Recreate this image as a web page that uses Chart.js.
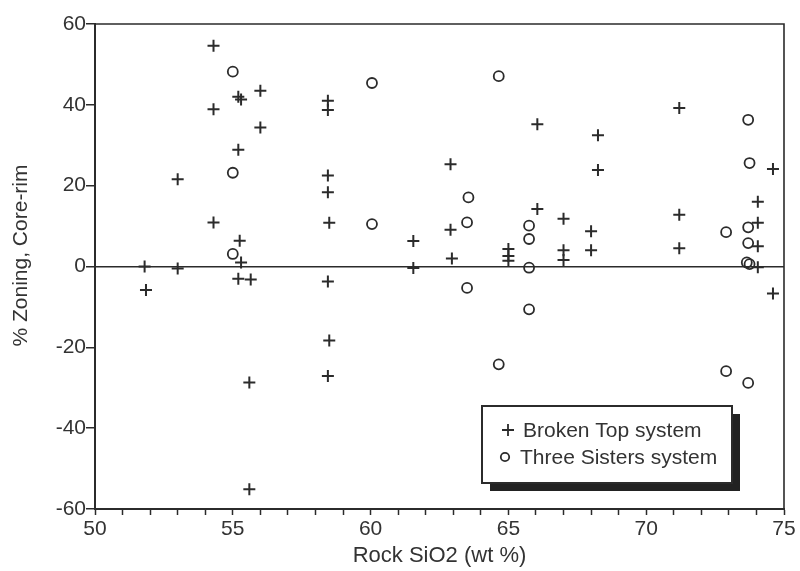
<!DOCTYPE html>
<html>
<head>
<meta charset="utf-8">
<script src="https://cdn.jsdelivr.net/npm/chart.js@4/dist/chart.umd.min.js"></script>
<style>
  html, body { margin: 0; padding: 0; background: #fff; }
  #wrap { width: 800px; height: 571px; }
</style>
</head>
<body>
<div id="wrap"><canvas id="c" width="800" height="571"></canvas></div>
<script>
// Plagioclase zoning (core to rim, %) against whole-rock silica
const seriesNames = ['Broken Top system', 'Three Sisters system'];

const brokenTopSiO2 = [
  54.3, 56.0, 55.2, 55.3, 54.3, 56.0, 55.2, 53.0, 54.3, 55.25, 55.3, 51.8, 53.0,
  51.85, 55.2, 55.65, 55.6, 55.6, 58.45, 58.45, 62.9, 58.45, 58.45, 58.5, 62.9,
  61.55, 62.95, 61.55, 65.0, 65.0, 65.0, 58.45, 58.5, 58.45, 66.05, 68.25, 71.2,
  74.6, 68.25, 66.05, 67.0, 71.2, 74.05, 68.0, 68.0, 67.0, 67.0, 71.2, 74.05,
  74.05, 74.05, 74.6
];
const brokenTopZoning = [
  54.6, 43.5, 42.0, 41.3, 38.9, 34.4, 28.9, 21.6, 10.9, 6.4, 1.0, 0.0, -0.5,
  -5.8, -3.0, -3.2, -28.7, -55.1, 41.0, 38.7, 25.3, 22.5, 18.4, 10.8, 9.1,
  6.3, 2.0, -0.4, 4.3, 2.6, 1.4, -3.7, -18.3, -27.1, 35.2, 32.5, 39.2,
  24.1, 23.9, 14.2, 11.8, 12.8, 16.0, 8.7, 4.0, 4.0, 1.6, 4.5, 10.8,
  5.0, -0.2, -6.7
];

const threeSistersSiO2 = [
  55.0, 55.0, 55.0, 60.05, 64.65, 63.55, 60.05, 63.5, 63.5, 64.65, 73.7, 73.75,
  65.75, 65.75, 65.75, 65.75, 72.9, 73.7, 73.7, 73.65, 73.75, 72.9, 73.7
];
const threeSistersZoning = [
  48.2, 23.2, 3.1, 45.4, 47.1, 17.1, 10.5, 10.9, -5.3, -24.2, 36.3, 25.6,
  10.1, 6.8, -0.3, -10.6, 8.5, 9.7, 5.8, 1.0, 0.6, -25.9, -28.8
];

const xRange = [50, 75];
const yRange = [-60, 60];
const xTitle = 'Rock SiO2 (wt %)';
const yTitle = '% Zoning, Core-rim';

const ink = '#2b2b2b';
const textInk = '#333';
const fontFamily = '"Liberation Sans", Arial, Helvetica, sans-serif';

function toPoints(xs, ys) {
  return xs.map((x, i) => ({ x: x, y: ys[i] }));
}

// closes the plot box on the top and right sides
const frame = {
  id: 'frame',
  afterDatasetsDraw(chart) {
    const { ctx, chartArea: a } = chart;
    ctx.save();
    ctx.strokeStyle = ink;
    ctx.lineWidth = 1.6;
    ctx.beginPath();
    ctx.moveTo(a.left, a.top);
    ctx.lineTo(a.right, a.top);
    ctx.lineTo(a.right, a.bottom);
    ctx.stroke();
    ctx.restore();
  }
};

// vertical axis title, set a little above the middle of the plot
const yAxisTitle = {
  id: 'yAxisTitle',
  afterDraw(chart) {
    const { ctx, chartArea: a } = chart;
    ctx.save();
    ctx.translate(21, (a.top + a.bottom) / 2 - 11);
    ctx.rotate(-Math.PI / 2);
    ctx.fillStyle = textInk;
    ctx.font = '21px ' + fontFamily;
    ctx.textAlign = 'center';
    ctx.textBaseline = 'middle';
    ctx.fillText(yTitle, 0, 0);
    ctx.restore();
  }
};

// boxed key with a drop shadow in the lower right of the plot
const keyBox = {
  id: 'keyBox',
  afterDraw(chart) {
    const { ctx, chartArea: a } = chart;
    const w = 250, h = 77;
    const x = a.right - 302, y = a.bottom - 103;
    ctx.save();
    ctx.fillStyle = '#222';
    ctx.fillRect(x + 8, y + 8, w, h);
    ctx.fillStyle = '#fff';
    ctx.fillRect(x, y, w, h);
    ctx.strokeStyle = ink;
    ctx.lineWidth = 2;
    ctx.strokeRect(x, y, w, h);

    const rows = [
      { style: 'cross', r: 6, mx: x + 26, tx: x + 41, cy: y + 24 },
      { style: 'circle', r: 4.2, mx: x + 23, tx: x + 38, cy: y + 51 }
    ];
    chart.data.datasets.forEach((ds, i) => {
      const row = rows[i];
      ctx.strokeStyle = ink;
      ctx.fillStyle = 'rgba(0,0,0,0)';
      ctx.lineWidth = 1.8;
      Chart.helpers.drawPoint(ctx, {
        pointStyle: row.style, radius: row.r, rotation: 0, borderWidth: 1.8
      }, row.mx, row.cy);
      ctx.fillStyle = textInk;
      ctx.font = '21px ' + fontFamily;
      ctx.textBaseline = 'middle';
      ctx.textAlign = 'left';
      ctx.fillText(ds.label, row.tx, row.cy + 1);
    });
    ctx.restore();
  }
};

new Chart(document.getElementById('c'), {
  type: 'scatter',
  data: {
    datasets: [
      {
        label: seriesNames[0],
        data: toPoints(brokenTopSiO2, brokenTopZoning),
        pointStyle: 'cross',
        pointRadius: 6,
        pointBorderWidth: 2,
        borderColor: ink,
        backgroundColor: ink
      },
      {
        label: seriesNames[1],
        data: toPoints(threeSistersSiO2, threeSistersZoning),
        pointStyle: 'circle',
        pointRadius: 5,
        pointBorderWidth: 1.8,
        borderColor: ink,
        backgroundColor: 'rgba(0,0,0,0)'
      }
    ]
  },
  options: {
    responsive: false,
    animation: false,
    devicePixelRatio: 1,
    layout: { padding: { top: 24, right: 16, left: 0, bottom: 0 } },
    plugins: {
      legend: { display: false },
      tooltip: { enabled: false }
    },
    scales: {
      x: {
        type: 'linear',
        min: xRange[0],
        max: xRange[1],
        afterFit(scale) { scale.height = 62; },
        border: { display: true, color: ink, width: 2 },
        grid: {
          drawOnChartArea: false,
          drawTicks: true,
          tickLength: 6,
          tickColor: ink,
          tickWidth: 1.5
        },
        ticks: {
          stepSize: 1,
          autoSkip: false,
          maxRotation: 0,
          padding: 2,
          color: textInk,
          font: { family: fontFamily, size: 21 },
          callback: v => (v % 5 === 0 ? String(v) : '')
        },
        title: {
          display: true,
          text: xTitle,
          color: textInk,
          font: { family: fontFamily, size: 22 },
          padding: { top: 0, bottom: 2 }
        }
      },
      y: {
        type: 'linear',
        min: yRange[0],
        max: yRange[1],
        afterFit(scale) { scale.width = 95; },
        border: { display: true, color: ink, width: 2 },
        grid: {
          drawOnChartArea: true,
          drawTicks: true,
          tickLength: 9,
          tickColor: ink,
          tickWidth: 1.5,
          lineWidth: 1.5,
          color: c => (c.tick && c.tick.value === 0 ? ink : 'rgba(0,0,0,0)')
        },
        ticks: {
          stepSize: 20,
          padding: 0,
          color: textInk,
          font: { family: fontFamily, size: 21 }
        },
        title: { display: false }
      }
    }
  },
  plugins: [frame, yAxisTitle, keyBox]
});
</script>
</body>
</html>
